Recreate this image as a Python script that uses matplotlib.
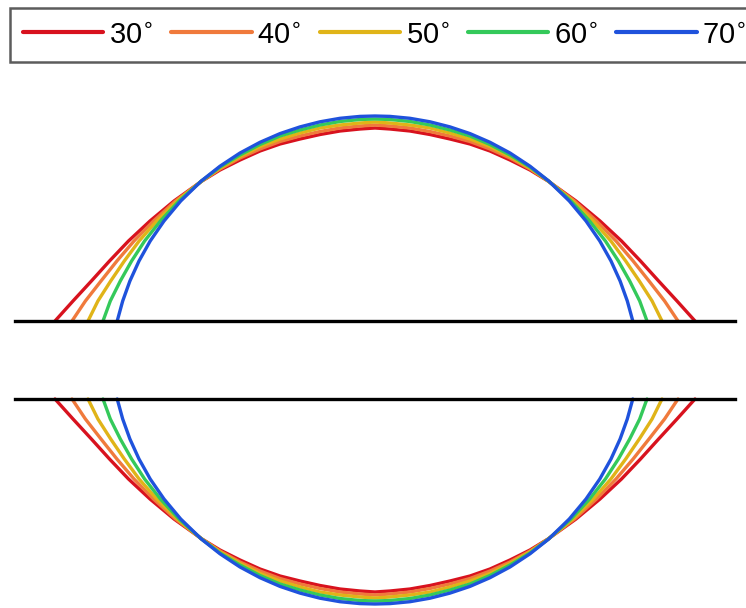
import matplotlib
matplotlib.use("Agg")
import matplotlib.pyplot as plt
import numpy as np

# ---- data (left half of each profile, mirrored about the centre) ----
angles = [30, 40, 50, 60, 70]
labels = ["30$^{\\circ}$", "40$^{\\circ}$", "50$^{\\circ}$", "60$^{\\circ}$", "70$^{\\circ}$"]
colors = ["#d8121e", "#f07a3c", "#e0b418", "#34c95a", "#1f52dc"]

center_x = 375
# foot region: horizontal position at given heights
tail_h = [0, 20, 40, 60, 80, 100, 120, 140]
tail_x_30 = [55, 73, 91.4, 109.5, 128.5, 150, 174, 202]
tail_x_40 = [72, 85.4, 101, 116.9, 134, 153.5, 175.5, 201.8]
tail_x_50 = [88, 97.9, 110.7, 124.3, 139.1, 156.8, 177.3, 201.6]
tail_x_60 = [103, 110.3, 120.3, 131.6, 144.6, 160.4, 179, 201.5]
tail_x_70 = [117.2, 122.7, 129.9, 139, 150.2, 164, 180.7, 201.3]
# cap region: height at given horizontal positions
cap_x = [220, 240, 260, 280, 300, 320, 340, 360, 375]
cap_h_30 = [151, 161, 170, 177, 182, 186.5, 190, 192, 193]
cap_h_40 = [152, 163, 172, 179.5, 185, 189.5, 193, 195, 196]
cap_h_50 = [153, 164.5, 174.5, 182, 188, 193, 196, 198, 199]
cap_h_60 = [154, 166, 176.5, 185, 191, 196, 199.5, 201.5, 202]
cap_h_70 = [154.8, 168, 178.7, 187.4, 194.1, 199.2, 202.7, 204.6, 205]

tails = [tail_x_30, tail_x_40, tail_x_50, tail_x_60, tail_x_70]
caps = [cap_h_30, cap_h_40, cap_h_50, cap_h_60, cap_h_70]

baseline_x = [15, 735]

# ---- figure ----
W, H = 746, 608
fig = plt.figure(figsize=(W / 100, H / 100), dpi=100)
ax = fig.add_axes([0, 0, 1, 1])
top_base = 321      # pixel row of upper substrate
bot_base = 399      # pixel row of lower substrate
ax.set_xlim(0, W)
ax.set_ylim(top_base - H, top_base)
ax.axis("off")
gap = bot_base - top_base

lines = []
for ang, lab, col, tx, ch in zip(angles, labels, colors, tails, caps):
    left_x = list(tx) + list(cap_x)
    left_h = list(tail_h) + list(ch)
    xs = np.array(left_x + [2 * center_x - v for v in reversed(left_x[:-1])])
    hs = np.array(left_h + list(reversed(left_h[:-1])))
    ln, = ax.plot(xs, hs, color=col, lw=2.4, solid_capstyle="round",
                  solid_joinstyle="round", label=lab)
    ax.plot(xs, -gap - hs, color=col, lw=2.4, solid_capstyle="round",
            solid_joinstyle="round")
    lines.append(ln)

ax.plot(baseline_x, [0, 0], color="black", lw=2.4)
ax.plot(baseline_x, [-gap, -gap], color="black", lw=2.4)

fs = 21
leg = ax.legend(handles=lines, loc="upper left", ncol=5,
                bbox_to_anchor=(10 / W, 1 - 7.5 / H),
                prop={"family": ["Liberation Sans", "DejaVu Sans"], "size": fs},
                handlelength=2.75, handletextpad=0.2, columnspacing=0.62,
                borderpad=0.45, borderaxespad=0, frameon=True, fancybox=False)
fr = leg.get_frame()
fr.set_edgecolor("#333333")
fr.set_linewidth(1.8)
for l in leg.get_lines():
    l.set_linewidth(3)

fig.savefig("out.png", dpi=100)
